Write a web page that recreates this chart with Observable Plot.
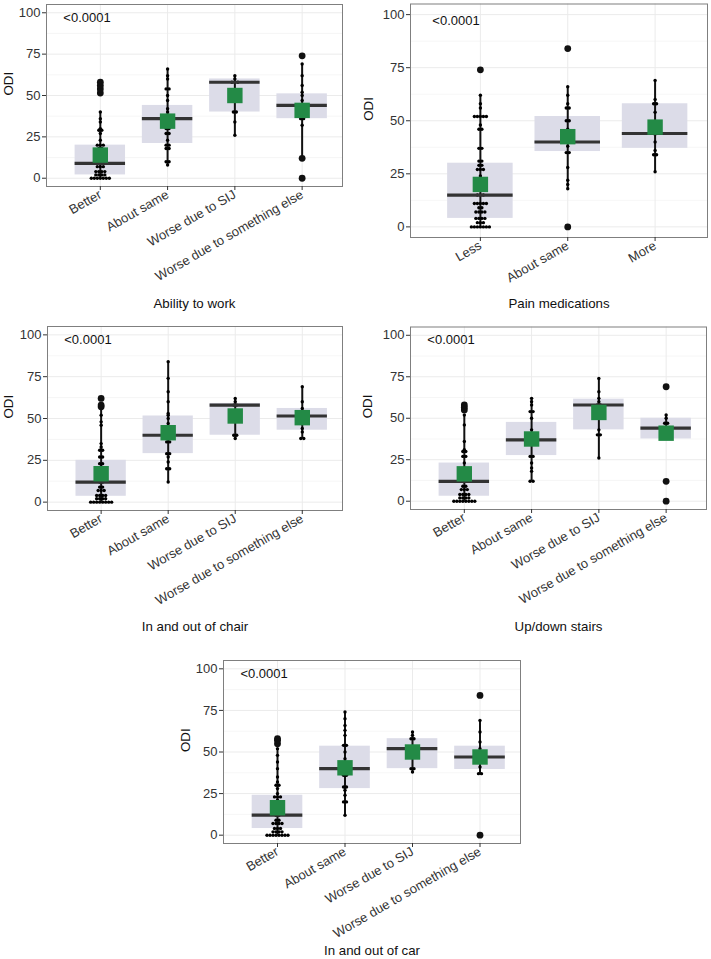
<!DOCTYPE html>
<html>
<head>
<meta charset="utf-8">
<script src="https://cdn.jsdelivr.net/npm/d3@7"></script>
<script src="https://cdn.jsdelivr.net/npm/@observablehq/plot@0.6"></script>
<style>
  html, body { margin: 0; padding: 0; background: #fff; }
  #wrap { position: relative; width: 711px; height: 959px; overflow: hidden; background: #fff; }
  .panel { position: absolute; }
</style>
</head>
<body>
<div id="wrap"></div>
<script>
// ---------------- DATA ----------------
const pValue = "<0.0001";
const yTicks = [0, 25, 50, 75, 100];
const yMinor = [12.5, 37.5, 62.5, 87.5];

// Panel 1: Ability to work
const p1_title = "Ability to work";
const p1_cats = ["Better", "About same", "Worse due to SIJ", "Worse due to something else"];
const p1_q1 = [2, 21, 40, 36];
const p1_med = [9, 36, 58, 44];
const p1_q3 = [20, 44, 60, 51];
const p1_mean = [14, 34.5, 50, 41];
const p1_lo = [0, 8, 26, 12];
const p1_hi = [40, 66, 62, 69];
const p1_pts = [
  [0,0,0,0,0,0,0,2,2,2,2,4,4,4,4,7,7,7,9,9,11,13,16,18,18,20,20,20,23,27,29,29,30,34,36,40],
  [8,10,10,18,18,20,20,23,27,27,30,30,34,36,36,38,38,40,42,47,50,54,54,60,62,66],
  [26,34,40,40,58,58,58,60,62],
  [32,36,36,38,41,44,44,47,50,52,56,62,69]
];
const p1_out = [[51.5, 54, 56, 58], [], [], [74, 12, 0]];

// Panel 2: Pain medications
const p2_title = "Pain medications";
const p2_cats = ["Less", "About same", "More"];
const p2_q1 = [4, 35.5, 37];
const p2_med = [15, 40, 44];
const p2_q3 = [30, 52, 58];
const p2_mean = [20, 42.5, 47];
const p2_lo = [0, 18, 26];
const p2_hi = [62, 66, 69];
const p2_pts = [
  [0,0,0,0,0,0,0,2,2,2,4,4,4,4,7,7,7,7,9,9,11,11,11,11,11,15,15,15,18,20,24,27,27,27,29,29,31,31,37,37,46,46,48,52,52,52,52,52,56,58,62],
  [18,20,22,28,35,35,38,40,40,46,50,50,56,56,58,62,66],
  [26,34,34,36,40,44,44,46,54,58,58,60,69]
];
const p2_out = [[74], [84, 0], []];

// Panel 3: In and out of chair
const p3_title = "In and out of chair";
const p3_cats = ["Better", "About same", "Worse due to SIJ", "Worse due to something else"];
const p3_q1 = [3.5, 29, 40, 43];
const p3_med = [12, 40, 58, 51.5];
const p3_q3 = [25, 51.5, 59, 56];
const p3_mean = [17, 41.5, 51.5, 50.5];
const p3_lo = [0, 12, 38, 38];
const p3_hi = [56, 84, 62, 69];
const p3_pts = [
  [0,0,0,0,0,0,0,0,2,2,2,2,4,4,4,4,7,7,7,9,9,12,12,14,14,16,18,18,21,23,23,27,27,31,31,33,35,46,48,52,56],
  [12,20,20,24,27,29,29,36,36,38,41,44,47,50,52,53,60,66,74,84],
  [38,40,40,58,58,60,62],
  [38,38,42,44,48,52,56,60,69]
];
const p3_out = [[57, 58, 62], [], [], []];

// Panel 4: Up/down stairs
const p4_title = "Up/down stairs";
const p4_cats = ["Better", "About same", "Worse due to SIJ", "Worse due to something else"];
const p4_q1 = [3, 27.5, 43, 37.5];
const p4_med = [12, 37, 58, 44];
const p4_q3 = [23, 47.5, 61.5, 50];
const p4_mean = [16.5, 37.5, 53.5, 41];
const p4_lo = [0, 12, 26, 38];
const p4_hi = [52, 62, 74, 52];
const p4_pts = [
  [0,0,0,0,0,0,0,0,2,2,2,2,4,4,4,4,7,7,7,9,9,12,12,14,16,16,18,20,23,27,27,30,30,31,36,46,52],
  [12,12,18,20,23,27,27,36,40,43,50,54,54,58,60,62],
  [26,40,40,43,58,58,60,62,66,74],
  [38,44,44,47,47,50,52]
];
const p4_out = [[55, 56.5, 58], [], [], [69, 12, 0]];

// Panel 5: In and out of car
const p5_title = "In and out of car";
const p5_cats = ["Better", "About same", "Worse due to SIJ", "Worse due to something else"];
const p5_q1 = [4, 28, 40, 39.5];
const p5_med = [12, 40, 52, 47];
const p5_q3 = [24, 53.5, 58, 53.5];
const p5_mean = [16.5, 40.5, 50, 47];
const p5_lo = [0, 12, 38, 37];
const p5_hi = [52, 74, 62, 69];
const p5_pts = [
  [0,0,0,0,0,0,0,0,2,2,2,2,4,4,4,7,7,7,7,9,9,12,12,14,16,18,21,23,23,23,25,28,30,30,32,35,40,44,48,52],
  [12,20,20,24,27,29,29,36,36,38,40,44,46,50,54,54,60,63,66,70,74],
  [38,40,40,58,58,60,62],
  [37,37,41,44,47,52,56,62,69]
];
const p5_out = [[55, 57, 58], [], [], [84, 0]];

// ---------------- DRAW ----------------
const FONT = "'Liberation Sans', Arial, Helvetica, sans-serif";

function panel(cfg) {
  const {cats, q1, med, q3, mean, lo, hi, pts, out, title, layout} = cfg;
  const {left, top, width, height, ml, mr, mt, mb, titleDy, yLabDx} = layout;
  const n = cats.length;
  const x0 = -0.8, x1 = n - 0.4;
  const ppu = (width - ml - mr) / (x1 - x0);
  const step = 3.0 / ppu;
  const hw = 0.375;

  const boxes = cats.map((c, i) => ({i, q1: q1[i], med: med[i], q3: q3[i], mean: mean[i], lo: lo[i], hi: hi[i]}));
  const dots = [];
  pts.forEach((arr, i) => {
    const counts = d3.rollup(arr, v => v.length, d => d);
    for (const [v, c] of counts) {
      for (let k = 0; k < c; k++) dots.push({x: i + (k - (c - 1) / 2) * step, y: v});
    }
  });
  const outs = [];
  out.forEach((arr, i) => arr.forEach(v => outs.push({x: i, y: v})));

  const svg = Plot.plot({
    width, height,
    marginLeft: ml, marginRight: mr, marginTop: mt, marginBottom: mb,
    style: {fontFamily: FONT, fontSize: "13px", color: "#333", background: "#fff"},
    x: {type: "linear", domain: [x0, x1]},
    y: {domain: [-5, 105]},
    marks: [
      Plot.ruleY(yMinor, {stroke: "#f2f2f2", strokeWidth: 0.7}),
      Plot.ruleY(yTicks, {stroke: "#ebebeb", strokeWidth: 1}),
      Plot.ruleX(d3.range(n), {stroke: "#ebebeb", strokeWidth: 1}),
      Plot.rect(boxes, {x1: d => d.i - hw, x2: d => d.i + hw, y1: "q1", y2: "q3", fill: "#dcdce8"}),
      Plot.ruleX(boxes, {x: "i", y1: "lo", y2: "hi", stroke: "#111", strokeWidth: 2}),
      Plot.dot(dots, {x: "x", y: "y", r: 1.7, fill: "#000", stroke: "none"}),
      Plot.dot(outs, {x: "x", y: "y", r: 3.4, fill: "#111", stroke: "none"}),
      Plot.ruleY(boxes, {y: "med", x1: d => d.i - hw, x2: d => d.i + hw, stroke: "#333", strokeWidth: 3.2}),
      Plot.dot(boxes, {x: "i", y: "mean", symbol: "square", r: 8.7, fill: "#238a46", stroke: "none"}),
      Plot.text([pValue], {x: -0.55, y: 97, textAnchor: "start", lineAnchor: "middle", fontSize: 13, fill: "#111"}),
      Plot.frame({stroke: "#7f7f7f", strokeWidth: 1}),
      Plot.axisY(yTicks, {tickSize: 4, tickPadding: 2, label: null, fontSize: 13}),
      Plot.axisX(d3.range(n), {tickFormat: i => cats[i], tickRotate: -30, tickSize: 4, tickPadding: 3, label: null, fontSize: 13}),
      Plot.text([title], {frameAnchor: "bottom", dy: titleDy, lineAnchor: "middle", fontSize: 13.3, fill: "#111"}),
      Plot.text(["ODI"], {frameAnchor: "left", dx: -yLabDx, rotate: -90, lineAnchor: "middle", fontSize: 13.3, fill: "#111"})
    ]
  });
  const div = document.createElement("div");
  div.className = "panel";
  div.style.left = left + "px";
  div.style.top = top + "px";
  div.appendChild(svg);
  document.getElementById("wrap").appendChild(div);
}

panel({cats: p1_cats, q1: p1_q1, med: p1_med, q3: p1_q3, mean: p1_mean, lo: p1_lo, hi: p1_hi, pts: p1_pts, out: p1_out, title: p1_title,
  layout: {left: 0, top: 0, width: 355, height: 318, ml: 46, mr: 13, mt: 4, mb: 132, titleDy: 117, yLabDx: 38}});
panel({cats: p2_cats, q1: p2_q1, med: p2_med, q3: p2_q3, mean: p2_mean, lo: p2_lo, hi: p2_hi, pts: p2_pts, out: p2_out, title: p2_title,
  layout: {left: 355, top: 0, width: 356, height: 318, ml: 55, mr: 4, mt: 3.5, mb: 81, titleDy: 66, yLabDx: 42}});
panel({cats: p3_cats, q1: p3_q1, med: p3_med, q3: p3_q3, mean: p3_mean, lo: p3_lo, hi: p3_hi, pts: p3_pts, out: p3_out, title: p3_title,
  layout: {left: 0, top: 320, width: 355, height: 318, ml: 47, mr: 13, mt: 6, mb: 128, titleDy: 116, yLabDx: 39}});
panel({cats: p4_cats, q1: p4_q1, med: p4_med, q3: p4_q3, mean: p4_mean, lo: p4_lo, hi: p4_hi, pts: p4_pts, out: p4_out, title: p4_title,
  layout: {left: 355, top: 320, width: 356, height: 318, ml: 55, mr: 5, mt: 6.5, mb: 129, titleDy: 117, yLabDx: 43}});
panel({cats: p5_cats, q1: p5_q1, med: p5_med, q3: p5_q3, mean: p5_mean, lo: p5_lo, hi: p5_hi, pts: p5_pts, out: p5_out, title: p5_title,
  layout: {left: 170, top: 640, width: 370, height: 319, ml: 53, mr: 20, mt: 20, mb: 116, titleDy: 107, yLabDx: 38}});
</script>
</body>
</html>
